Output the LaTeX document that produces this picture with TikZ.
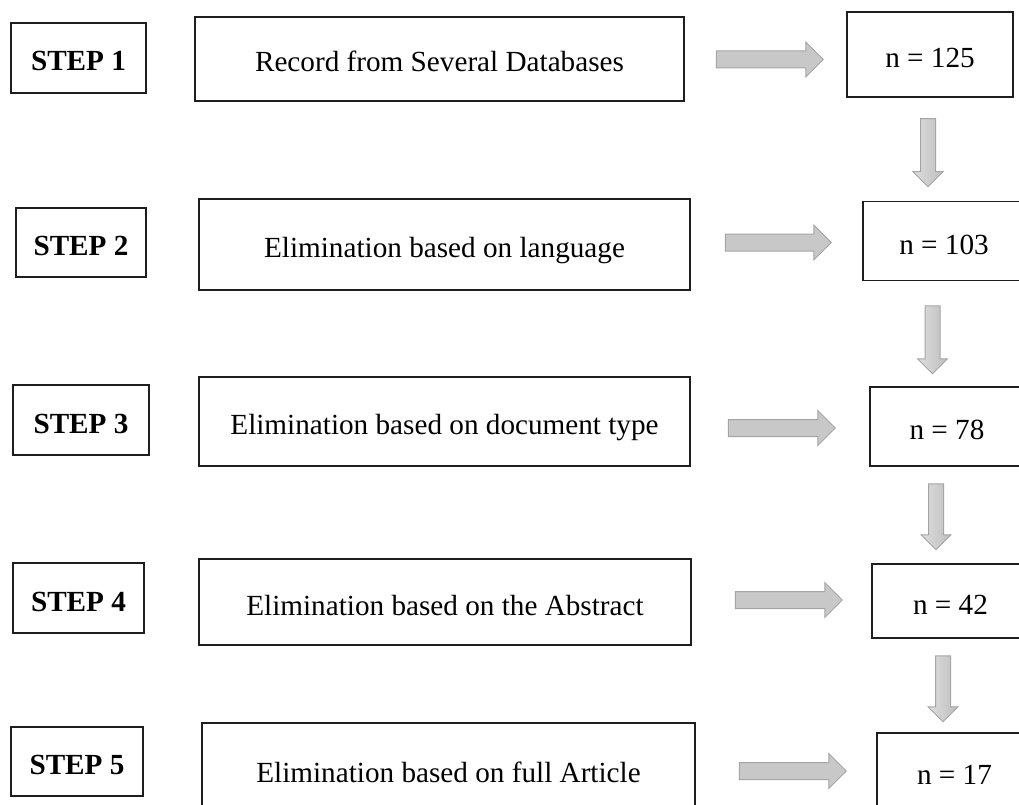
\documentclass[tikz,border=0pt]{standalone}
\usepackage{fontspec}
\setmainfont{Liberation Serif}
\usetikzlibrary{shapes.arrows}
\definecolor{arrowfill}{RGB}{200,200,200}
\definecolor{arrowline}{RGB}{165,165,165}
\definecolor{boxline}{RGB}{30,30,30}
\tikzset{
  box/.style={draw=boxline, line width=1.3pt, inner sep=0pt, text height=26pt, text depth=0pt,
    font=\fontsize{29.2}{32}\selectfont, align=center},
  stepbox/.style={box, font=\fontsize{29.2}{32}\selectfont\bfseries},
  harrow/.style={single arrow, draw=arrowline, fill=arrowfill, line width=1pt,
    inner xsep=0pt, inner ysep=8pt, minimum width=0pt, minimum height=107pt,
    single arrow head extend=9pt, single arrow tip angle=90, single arrow head indent=0pt},
  varrow/.style={single arrow, draw=arrowline, left color=arrowfill!60!white, right color=arrowfill!95!black, line width=1pt,
    inner xsep=0pt, inner ysep=7pt, minimum width=0pt, minimum height=67pt,
    single arrow head extend=7.5pt, single arrow tip angle=90, single arrow head indent=0pt, rotate=-90}
}
\begin{document}
\begin{tikzpicture}[x=1pt,y=-1pt]
\useasboundingbox (0,0) rectangle (1019,805);
\begin{scope}
\clip (0,0) rectangle (1019,805);
% row 1
\node[stepbox, minimum width=135pt, minimum height=70pt] (s1) at (78.5,58) {STEP 1};
\node[box, minimum width=489pt, minimum height=84pt] (r1) at (439.5,59) {Record from Several Databases};
\node[box, minimum width=166pt, minimum height=85pt] (n1) at (930,54.5) {n = 125};
% row 2
\node[stepbox, minimum width=130pt, minimum height=69pt] (s2) at (81,242.5) {STEP 2};
\node[box, minimum width=491pt, minimum height=91pt] (r2) at (444.5,244.5) {Elimination based on language};
\node[box, minimum width=162pt, minimum height=79pt] (n2) at (944,241) {n = 103};
% row 3
\node[stepbox, minimum width=136pt, minimum height=70pt] (s3) at (81,420) {STEP 3};
\node[box, minimum width=491pt, minimum height=89pt] (r3) at (444.5,421.5) {Elimination based on document type};
\node[box, minimum width=154pt, minimum height=79pt] (n3) at (947,426.5) {n = 78};
% row 4
\node[stepbox, minimum width=131pt, minimum height=70pt] (s4) at (78.5,598) {STEP 4};
\node[box, minimum width=492pt, minimum height=86pt] (r4) at (445,602) {Elimination based on the Abstract};
\node[box, minimum width=157pt, minimum height=74pt] (n4) at (950.5,601) {n = 42};
% row 5
\node[stepbox, minimum width=132pt, minimum height=69pt] (s5) at (77,761.5) {STEP 5};
\node[box, minimum width=493pt, minimum height=92pt] (r5) at (448.5,769) {Elimination based on full Article};
\node[box, minimum width=155pt, minimum height=76pt] (n5) at (954.5,771) {n = 17};
% horizontal arrows
\node[harrow] (a1) at (765.5,59.5) {};
\node[harrow, minimum height=106pt] (a2) at (774,242.5) {};
\node[harrow] (a3) at (777.5,428) {};
\node[harrow] (a4) at (784.5,600) {};
\node[harrow] (a5) at (788.5,771) {};
% vertical arrows
\node[varrow, minimum height=68pt] (d1) at (928,149) {};
\node[varrow, minimum height=68pt] (d2) at (932.5,336) {};
\node[varrow, minimum height=66pt] (d3) at (936,513) {};
\node[varrow, minimum height=66pt] (d4) at (943,685) {};
\end{scope}
\end{tikzpicture}
\end{document}
